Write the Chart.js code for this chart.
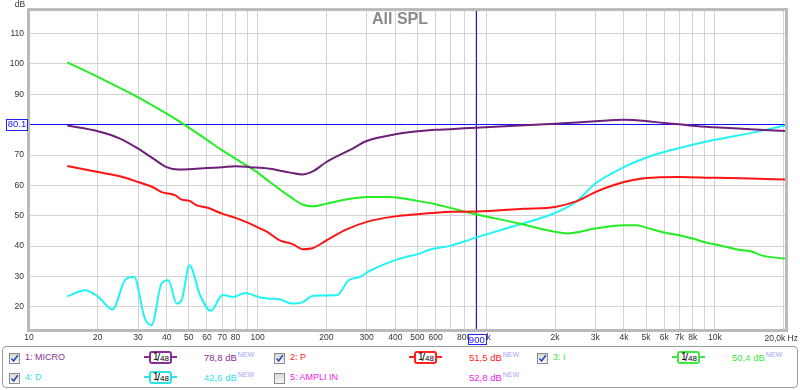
<!DOCTYPE html>
<html>
<head>
<meta charset="utf-8">
<script src="https://cdn.jsdelivr.net/npm/chart.js@4.4.1/dist/chart.umd.min.js"></script>
<style>
  html, body { margin: 0; padding: 0; background: #fff; }
  #wrap { position: relative; width: 800px; height: 390px; font-family: "Liberation Sans", Arial, sans-serif; overflow: hidden; }
  #chart { position: absolute; left: 0; top: 0; }
  #legend { position: absolute; left: 2px; top: 346px; width: 796px; height: 42px; box-sizing: border-box; border: 1px solid #9c9c9c; border-radius: 4px; }
  .cb { position: absolute; width: 9px; height: 9px; border: 1px solid #8c8d8f; background: linear-gradient(#d9dadc, #f6f6f6); }
  .cb svg { position: absolute; left: 0; top: 0; }
  .nm, .val { position: absolute; line-height: 11px; white-space: nowrap; }
  .nm { font-size: 9px; }
  .val { font-size: 9.5px; }
  .val sup { font-size: 7px; color: #a4a4ff; vertical-align: 0; position: relative; top: -4px; margin-left: 1px; }
  .ico { position: absolute; width: 33px; height: 13px; }
  .ico .ln { position: absolute; left: 0; right: 0; top: 5px; height: 2px; }
  .ico .bx { position: absolute; left: 5px; top: 0; width: 19px; height: 9px; border: 2px solid; border-radius: 3px; background: #fff; color: #000; }
  .ico .bx span { position: absolute; line-height: 10px; }
  .ico .bx .a { left: 2px; top: -1px; font-size: 10px; }
  .ico .bx .s { left: 6px; top: -1px; font-size: 11px; }
  .ico .bx .b { left: 9px; top: 1px; font-size: 8px; }
</style>
</head>
<body>
<div id="wrap">
  <canvas id="chart" width="800" height="346"></canvas>
  <div id="legend"></div>
</div>
<script>
const microFreq = [14.7, 20, 25, 30, 35, 40, 45, 50, 60, 70, 80, 93, 113, 139, 157, 175, 200, 254, 300, 400, 500, 600, 695, 900, 2000, 3000, 4000, 5000, 6000, 7000, 8000, 10000, 14300, 20300];
const microDb   = [79.7, 77.8, 75.4, 72.1, 68.8, 66.0, 65.2, 65.3, 65.7, 66.0, 66.3, 66.0, 65.5, 64.2, 63.6, 64.7, 67.7, 71.7, 74.6, 76.8, 77.8, 78.3, 78.5, 79.0, 80.3, 81.1, 81.6, 81.2, 80.5, 80.1, 79.6, 79.1, 78.5, 77.9];

const pFreq = [14.7, 20, 25, 30, 35, 38, 43.7, 46.5, 50.3, 54.2, 60, 70, 80, 90, 100, 110, 125, 143, 157, 175, 200, 245, 300, 400, 500, 600, 695, 900, 1450, 2000, 2490, 3000, 4000, 5000, 7000, 10000, 14300, 20300];
const pDb   = [66.4, 64.4, 63.0, 61.1, 59.3, 57.8, 56.7, 55.3, 54.9, 53.4, 52.7, 50.7, 49.3, 47.8, 46.2, 44.7, 41.9, 40.6, 39.0, 39.4, 41.9, 45.5, 48.0, 49.8, 50.5, 51.0, 51.3, 51.4, 52.3, 52.9, 54.8, 57.8, 61.1, 62.4, 62.8, 62.5, 62.3, 61.9];

const iFreq = [14.7, 20, 30, 40, 50, 60, 70, 80, 92, 100, 113, 139, 157, 175, 200, 254, 300, 379, 500, 600, 695, 900, 1406, 2000, 2250, 3000, 4000, 4550, 5000, 6000, 7000, 8000, 9230, 10000, 12900, 14300, 16300, 20300];
const iDb   = [100.5, 95.7, 89.0, 83.6, 79.0, 75.0, 71.5, 68.8, 66.0, 64.2, 61.1, 56.2, 53.7, 53.1, 54.0, 55.6, 56.2, 56.2, 54.9, 53.8, 52.6, 50.5, 47.4, 44.7, 44.2, 45.8, 46.9, 46.9, 46.1, 44.5, 43.6, 42.5, 41.1, 40.6, 38.7, 38.3, 36.8, 35.9];

const dFreq = [14.7, 17.6, 20.1, 23.2, 26.3, 28.8, 32.1, 34.4, 38.0, 40.7, 44.2, 46.5, 50.3, 56.0, 62.3, 70.4, 78.3, 88.2, 102.6, 110, 125, 141, 157, 175, 223, 250, 281, 310, 400, 449, 496, 568, 695, 900, 1406, 2000, 2490, 3000, 4000, 5000, 6000, 7000, 8000, 10000, 14300, 20300];
const dDb   = [23.5, 25.5, 23.3, 19.2, 28.8, 29.9, 16.2, 14.0, 27.7, 28.8, 21.1, 22.2, 33.7, 23.9, 18.7, 23.9, 23.3, 24.6, 23.1, 22.8, 22.5, 21.1, 21.5, 23.7, 23.9, 28.8, 29.9, 31.9, 35.4, 36.5, 37.3, 38.9, 40.1, 42.8, 47.2, 50.9, 54.8, 60.6, 66.0, 69.1, 71.0, 72.3, 73.4, 75.0, 77.2, 79.7];

// axis ticks
const xGridValues = [10, 20, 30, 40, 50, 60, 70, 80, 90, 100, 200, 300, 400, 500, 600, 700, 800, 900, 1000, 2000, 3000, 4000, 5000, 6000, 7000, 8000, 9000, 10000, 20000];
const xTickLabels = ["10", "20", "30", "40", "50", "60", "70", "80", "", "100", "200", "300", "400", "500", "600", "", "800", "", "1k", "2k", "3k", "4k", "5k", "6k", "7k", "8k", "", "10k", ""];
const xEndLabel = "20,0k Hz";
const yTickValues = [20, 30, 40, 50, 60, 70, 80, 90, 100, 110];

// cursor
const cursorFreq = 900, cursorFreqLabel = "900";
const cursorDb = 80.1, cursorDbLabel = "80.1";

// legend
const legendNames   = ["1: MICRO", "2: P", "3: I", "4: D", "5: AMPLI IN"];
const legendValues  = ["78,8 dB", "51,5 dB", "50,4 dB", "42,6 dB", "52,8 dB"];
const legendChecked = [true, true, true, true, false];
const legendIcon    = [true, true, true, true, false];
const textColors    = ["#8a2f94", "#ff2020", "#3ee83e", "#2fe2e2", "#f020f0"];
const lineColors    = ["#6e1f7a", "#ff1414", "#22ee22", "#22f4f4"];

const FONT = "'Liberation Sans', Arial, sans-serif";

const series = [
  { label: legendNames[0], freq: microFreq, db: microDb },
  { label: legendNames[1], freq: pFreq, db: pDb },
  { label: legendNames[2], freq: iFreq, db: iDb },
  { label: legendNames[3], freq: dFreq, db: dDb },
];

const rewDecor = {
  id: "rewDecor",
  beforeDatasetsDraw(chart) {
    const { ctx, chartArea: a, scales } = chart;
    const cx = Math.round(scales.x.getPixelForValue(cursorFreq)) + 0.5;
    const cy = Math.round(scales.y.getPixelForValue(cursorDb)) + 0.5;
    ctx.save();
    ctx.strokeStyle = "#1010ff";
    ctx.lineWidth = 1;
    ctx.beginPath();
    ctx.moveTo(a.left, cy); ctx.lineTo(a.right, cy);
    ctx.moveTo(cx, a.top); ctx.lineTo(cx, a.bottom);
    ctx.stroke();
    ctx.restore();
  },
  afterDraw(chart) {
    const { ctx, chartArea: a, scales } = chart;
    ctx.save();
    // plot frame
    ctx.strokeStyle = "#bababa";
    ctx.lineWidth = 3;
    ctx.strokeRect(a.left - 0.5, a.top - 0.5, a.right - a.left + 1, a.bottom - a.top + 1);

    // title
    ctx.fillStyle = "#8a8a8a";
    ctx.font = "bold 16px " + FONT;
    ctx.textAlign = "center";
    ctx.textBaseline = "middle";
    ctx.fillText("All SPL", 400, 20);

    // axis unit labels
    ctx.fillStyle = "#333";
    ctx.font = "8.5px " + FONT;
    ctx.fillText("dB", 20, 5);
    ctx.textAlign = "right";
    ctx.fillText(xEndLabel, 798, 339);

    // cursor value boxes
    const cx = scales.x.getPixelForValue(cursorFreq);
    const cy = scales.y.getPixelForValue(cursorDb);
    ctx.font = "9.5px " + FONT;
    ctx.textAlign = "center";
    ctx.lineWidth = 1;
    ctx.strokeStyle = "#2020ff";
    ctx.fillStyle = "#fff";
    ctx.fillRect(6, cy - 5.5, 22, 11);
    ctx.strokeRect(6.5, Math.round(cy - 5.5) + 0.5, 21, 11);
    ctx.fillRect(cx - 8, 334, 18, 11);
    ctx.strokeRect(Math.round(cx - 8) + 0.5, 334.5, 18, 10);
    ctx.fillStyle = "#2020ff";
    ctx.fillText(cursorDbLabel, 17, cy + 0.5);
    ctx.fillText(cursorFreqLabel, cx + 1, 340);
    ctx.restore();
  }
};

new Chart(document.getElementById("chart"), {
  type: "line",
  data: {
    datasets: series.map((s, i) => ({
      label: s.label,
      data: s.freq.map((f, k) => ({ x: f, y: s.db[k] })),
      borderColor: lineColors[i],
      borderWidth: 2,
      pointRadius: 0,
      fill: false,
      cubicInterpolationMode: "monotone",
    })),
  },
  options: {
    responsive: false,
    animation: false,
    layout: { padding: { left: 0, top: 10, right: 14, bottom: 0 } },
    plugins: { legend: { display: false }, tooltip: { enabled: false } },
    scales: {
      x: {
        type: "logarithmic", min: 10, max: 20470,
        afterBuildTicks: s => { s.ticks = xGridValues.map(v => ({ value: v })); },
        afterFit: s => { s.height = 16; },
        ticks: {
          autoSkip: false, maxRotation: 0, minRotation: 0, padding: 3, color: "#333",
          font: { size: 8.5, family: FONT },
          callback: v => { const i = xGridValues.indexOf(v); return i < 0 ? "" : xTickLabels[i]; },
        },
        grid: { color: "#d3d3d3", drawTicks: false },
        border: { display: false },
      },
      y: {
        min: 12.4, max: 117.7,
        afterBuildTicks: s => { s.ticks = yTickValues.map(v => ({ value: v })); },
        afterFit: s => { s.width = 29; },
        ticks: { padding: 5, color: "#333", font: { size: 8.5, family: FONT } },
        grid: { color: "#d3d3d3", drawTicks: false },
        border: { display: false },
      },
    },
  },
  plugins: [rewDecor],
});

// ---- legend panel ----
const colLeft = [6, 271, 534];
const rowTop = [6, 26];
const checkSvg = '<svg width="9" height="9" viewBox="0 0 9 9"><path d="M1.5 4.5 L3.6 7 L7.8 1.2" fill="none" stroke="#2a4ea8" stroke-width="1.6"/></svg>';
const legendEl = document.getElementById("legend");
let html = "";
legendNames.forEach((name, i) => {
  const col = colLeft[i % 3], top = rowTop[Math.floor(i / 3)];
  const c = textColors[i];
  html += `<div class="cb" style="left:${col}px;top:${top}px">${legendChecked[i] ? checkSvg : ""}</div>`;
  html += `<div class="nm" style="left:${col + 16}px;top:${top - 1}px;color:${c}">${name}</div>`;
  if (legendIcon[i]) {
    html += `<div class="ico" style="left:${col + 135}px;top:${top - 2}px"><div class="ln" style="background:${c}"></div>` +
            `<div class="bx" style="border-color:${c}"><span class="a">1</span><span class="s">/</span><span class="b">48</span></div></div>`;
  }
  html += `<div class="val" style="left:${col + 195}px;top:${top - 1}px;color:${c}">${legendValues[i]}<sup>NEW</sup></div>`;
});
legendEl.innerHTML = html;
</script>
</body>
</html>
